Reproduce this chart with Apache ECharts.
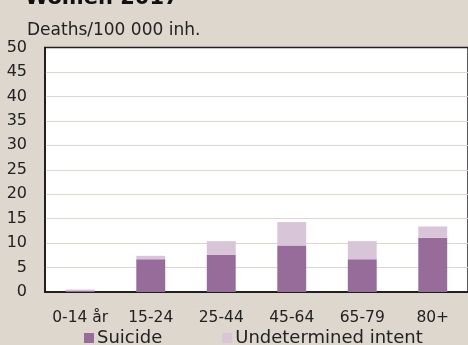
<!DOCTYPE html>
<html>
<head>
<meta charset="utf-8">
<script src="https://cdn.jsdelivr.net/npm/echarts@6/dist/echarts.min.js"></script>
<style>
  html, body { margin: 0; padding: 0; background: #ddd7cd; }
  #chart { width: 468px; height: 345px; }
</style>
</head>
<body>
<div id="chart"></div>
<script>
// Age groups and death rates per 100 000 inhabitants, women
const categories = ['0-14 år', '15-24', '25-44', '45-64', '65-79', '80+'];
const suicide = [0.3, 6.7, 7.6, 9.5, 6.7, 11.1];
const undetermined = [0.2, 0.7, 2.8, 4.8, 3.7, 2.3];
const yTicks = [0, 5, 10, 15, 20, 25, 30, 35, 40, 45, 50];

const FONT = 'DejaVu Sans';
const chart = echarts.init(document.getElementById('chart'), null, { renderer: 'canvas' });

chart.setOption({
  backgroundColor: '#ddd7cd',
  animation: false,
  title: [
    {
      text: 'Women 2017',
      left: 20, top: -17,
      textStyle: { fontFamily: FONT, fontSize: 21, fontWeight: 'bold', color: '#111' }
    },
    {
      text: 'Deaths/100 000 inh.',
      left: 22, top: 17,
      textStyle: { fontFamily: FONT, fontSize: 17, fontWeight: 'normal', color: '#222' }
    }
  ],
  grid: { left: 45, top: 47.5, width: 429, height: 244.5, show: true, backgroundColor: '#ffffff', borderColor: '#222', borderWidth: 1.5 },
  legend: {
    left: 79, top: 324,
    itemWidth: 10, itemHeight: 10, itemGap: 60,
    icon: 'rect',
    textStyle: { fontFamily: FONT, fontSize: 18, color: '#222', padding: [0, 0, 0, -2] },
    data: ['Suicide', 'Undetermined intent']
  },
  xAxis: {
    type: 'category',
    data: categories,
    axisLine: { lineStyle: { color: '#111', width: 1.5 } },
    axisTick: { inside: true, length: 5, lineStyle: { color: '#555' } },
    axisLabel: { interval: 0, fontFamily: FONT, fontSize: 15.5, color: '#222', margin: 18 }
  },
  yAxis: {
    type: 'value',
    min: yTicks[0], max: yTicks[yTicks.length - 1], interval: 5,
    axisLine: { show: true, lineStyle: { color: '#111', width: 1.5 } },
    axisTick: { show: false },
    splitLine: { showMaxLine: false, showMinLine: false, lineStyle: { color: '#ddd7cd', width: 1 } },
    axisLabel: { fontFamily: FONT, fontSize: 16, color: '#222', margin: 18 }
  },
  series: [
    {
      name: 'Suicide', type: 'bar', stack: 'total', data: suicide,
      barCategoryGap: '59%',
      itemStyle: { color: '#976c9a' }
    },
    {
      name: 'Undetermined intent', type: 'bar', stack: 'total', data: undetermined,
      itemStyle: { color: '#d8c6d8' }
    }
  ]
});
</script>
</body>
</html>
